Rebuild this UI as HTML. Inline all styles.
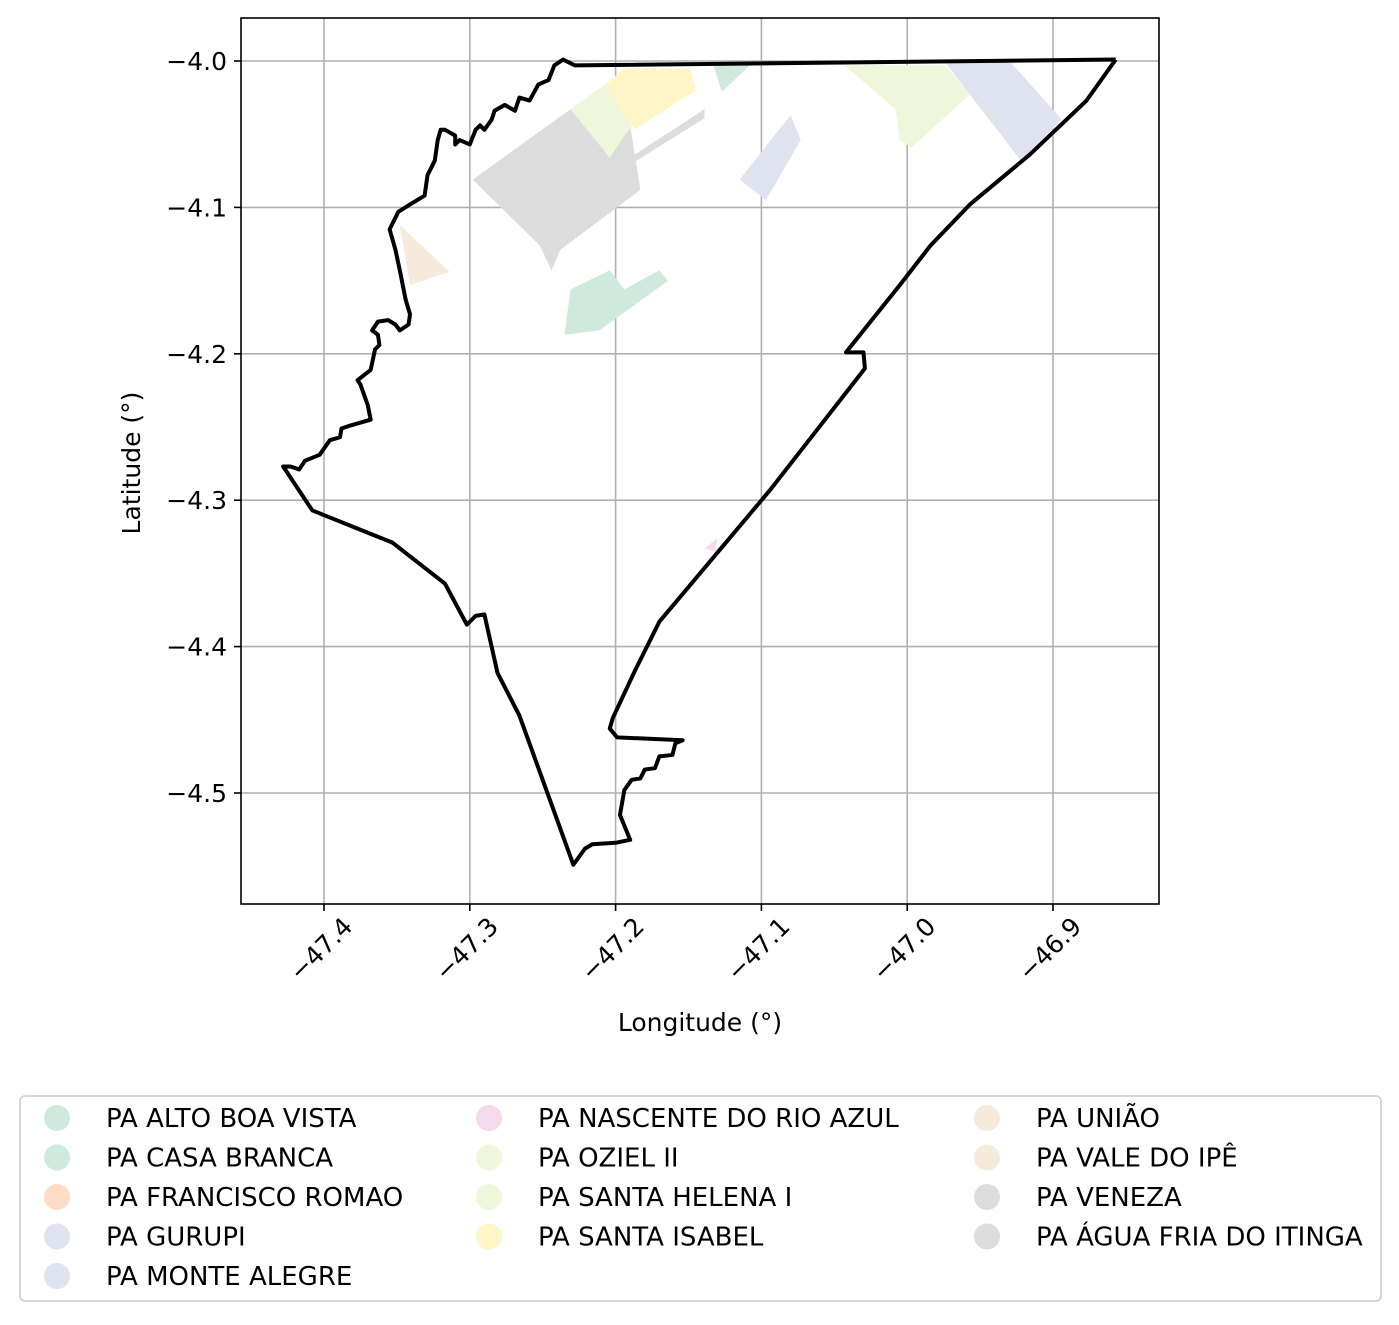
<!DOCTYPE html>
<html><head><meta charset="utf-8"><style>
body{margin:0;background:#fff}
svg text{font-family:"DejaVu Sans","Liberation Sans",sans-serif;font-size:25px;fill:#000}
svg .lgt{font-size:26px}
</style></head><body>
<svg id="chart" width="1399" height="1320" xmlns="http://www.w3.org/2000/svg"></svg>
<script>
const xTicks=[-47.4,-47.3,-47.2,-47.1,-47.0,-46.9];
const xTickLabels=["\u221247.4","\u221247.3","\u221247.2","\u221247.1","\u221247.0","\u221246.9"];
const yTicks=[-4.0,-4.1,-4.2,-4.3,-4.4,-4.5];
const yTickLabels=["\u22124.0","\u22124.1","\u22124.2","\u22124.3","\u22124.4","\u22124.5"];
const boundaryLon=[-46.857,-46.877,-46.916,-46.957,-46.984,-47.005,-47.042,-47.030,-47.029,-47.094,-47.170,-47.187,-47.202,-47.204,-47.199,-47.154,-47.159,-47.161,-47.170,-47.173,-47.180,-47.183,-47.189,-47.194,-47.197,-47.190,-47.200,-47.216,-47.221,-47.229,-47.266,-47.281,-47.290,-47.296,-47.302,-47.317,-47.353,-47.408,-47.428,-47.423,-47.417,-47.413,-47.403,-47.396,-47.389,-47.388,-47.382,-47.368,-47.370,-47.375,-47.377,-47.368,-47.365,-47.362,-47.363,-47.367,-47.363,-47.356,-47.351,-47.348,-47.342,-47.341,-47.344,-47.346,-47.348,-47.351,-47.355,-47.349,-47.341,-47.336,-47.331,-47.329,-47.324,-47.322,-47.320,-47.317,-47.310,-47.310,-47.307,-47.300,-47.296,-47.293,-47.290,-47.285,-47.283,-47.276,-47.269,-47.266,-47.259,-47.253,-47.246,-47.242,-47.236,-47.228,-46.857];
const boundaryLat=[-3.999,-4.027,-4.064,-4.098,-4.126,-4.153,-4.199,-4.199,-4.210,-4.293,-4.383,-4.417,-4.449,-4.456,-4.462,-4.464,-4.466,-4.474,-4.475,-4.483,-4.484,-4.490,-4.491,-4.498,-4.515,-4.532,-4.534,-4.535,-4.538,-4.549,-4.447,-4.418,-4.378,-4.379,-4.385,-4.357,-4.329,-4.307,-4.277,-4.277,-4.279,-4.273,-4.269,-4.259,-4.257,-4.251,-4.249,-4.245,-4.235,-4.221,-4.218,-4.211,-4.197,-4.194,-4.187,-4.184,-4.178,-4.177,-4.180,-4.184,-4.180,-4.173,-4.163,-4.153,-4.143,-4.129,-4.115,-4.103,-4.098,-4.095,-4.092,-4.078,-4.068,-4.054,-4.047,-4.047,-4.051,-4.057,-4.054,-4.057,-4.047,-4.044,-4.047,-4.040,-4.034,-4.030,-4.034,-4.025,-4.027,-4.016,-4.013,-4.003,-3.999,-4.003,-3.999];
const patchNames=["veneza","agua-fria","santa-helena","santa-isabel","casa-branca","monte-alegre","oziel","gurupi","alto-boa-vista","vale-do-ipe","nascente"];
const patchColors=["#dcdcdc","#dcdcdc","#eef7dc","#fff5c6","#cfeadc","#dfe3f0","#eef7dc","#dfe3f0","#cfeadc","#f5eadb","#f6d9ec"];
const patchLon=[[-47.298,-47.231,-47.190,-47.183,-47.238,-47.244,-47.252],[-47.187,-47.139,-47.139,-47.187],[-47.231,-47.207,-47.189,-47.204],[-47.207,-47.194,-47.149,-47.145,-47.187,-47.197],[-47.133,-47.108,-47.127],[-47.115,-47.080,-47.073,-47.097],[-47.043,-46.974,-46.957,-46.997,-47.005,-47.008],[-46.974,-46.929,-46.894,-46.922,-46.957],[-47.235,-47.231,-47.204,-47.194,-47.170,-47.164,-47.211],[-47.348,-47.314,-47.341],[-47.139,-47.130,-47.132]];
const patchLat=[[-4.081,-4.033,-4.044,-4.088,-4.129,-4.143,-4.126],[-4.064,-4.033,-4.039,-4.069],[-4.033,-4.016,-4.044,-4.066],[-4.016,-4.005,-4.005,-4.020,-4.047,-4.033],[-4.003,-4.003,-4.021],[-4.081,-4.037,-4.054,-4.095],[-4.003,-4.003,-4.023,-4.059,-4.054,-4.033],[-4.001,-4.001,-4.040,-4.068,-4.023],[-4.187,-4.156,-4.143,-4.156,-4.143,-4.150,-4.184],[-4.112,-4.144,-4.153],[-4.333,-4.326,-4.335]];
const legendLabels=["PA ALTO BOA VISTA","PA CASA BRANCA","PA FRANCISCO ROMAO","PA GURUPI","PA MONTE ALEGRE","PA NASCENTE DO RIO AZUL","PA OZIEL II","PA SANTA HELENA I","PA SANTA ISABEL","PA UNIÃO","PA VALE DO IPÊ","PA VENEZA","PA ÁGUA FRIA DO ITINGA"];
const legendColors=["#cfeadc","#cfeadc","#fddcc6","#dfe3f0","#dfe3f0","#f6d9ec","#eef7dc","#eef7dc","#fff5c6","#f5eadb","#f5eadb","#dcdcdc","#dcdcdc"];

const NS="http://www.w3.org/2000/svg";
const svg=document.getElementById('chart');
const L=241,R=1159,T=18,B=904;
function sx(v){return 324+(v+47.4)*1458;}
function sy(v){return 61-(v+4.0)*1464;}
function mk(tag,attrs,parent){const e=document.createElementNS(NS,tag);for(const k in attrs)e.setAttribute(k,attrs[k]);(parent||svg).appendChild(e);return e;}

const grid=mk('g',{});


xTicks.forEach((t,i)=>{
  const x=sx(t);
  const gl=mk('line',{x1:x,x2:x,y1:T,y2:B,stroke:'#b0b0b0','stroke-width':1.6},grid);
  
  
  const tk=mk('line',{x1:x,x2:x,y1:B,y2:B+7,stroke:'#000','stroke-width':1.6});
  
  
  const ax=x+30, ay=B+24;
  const tx=mk('text',{x:ax,y:ay,'text-anchor':'end',transform:`rotate(-45 ${ax} ${ay})`});
  tx.textContent=xTickLabels[i];
  
  
});
yTicks.forEach((t,i)=>{
  const y=sy(t);
  const gl=mk('line',{x1:L,x2:R,y1:y,y2:y,stroke:'#b0b0b0','stroke-width':1.6},grid);
  
  
  const tk=mk('line',{x1:L-7,x2:L,y1:y,y2:y,stroke:'#000','stroke-width':1.6});
  
  
  const tx=mk('text',{x:L-14,y:y+9,'text-anchor':'end'});
  tx.textContent=yTickLabels[i];
  
  
});
patchNames.forEach((n,i)=>{
  const pts=patchLon[i].map((lo,j)=>sx(lo)+','+sy(patchLat[i][j])).join(' ');
  const p=mk('polygon',{points:pts,fill:patchColors[i]});
  
  
});
const bpts=boundaryLon.map((lo,j)=>sx(lo)+','+sy(boundaryLat[j])).join(' ');
const bl=mk('polyline',{points:bpts,fill:'none',stroke:'#000','stroke-width':4,'stroke-linejoin':'round'});


const fr=mk('rect',{x:L,y:T,width:R-L,height:B-T,fill:'none',stroke:'#000','stroke-width':1.6});


const xl=mk('text',{x:700,y:1031,'text-anchor':'middle'});
xl.textContent='Longitude (°)';


const yl=mk('text',{x:140,y:463,'text-anchor':'middle',transform:'rotate(-90 140 463)'});
yl.textContent='Latitude (°)';



const lg=mk('g',{});


const lb=mk('rect',{x:20,y:1096,width:1361,height:205,rx:5,fill:'#fff',stroke:'#ccc','stroke-width':1.6},lg);


const colX=[57,489,987],rows=[5,4,4];
let k=0;
rows.forEach((n,c)=>{for(let r=0;r<n;r++){
  const y=1118+r*39.5;
  const ci=mk('circle',{cx:colX[c],cy:y,r:13,fill:legendColors[k]},lg);
  
  
  const t=mk('text',{x:colX[c]+49,y:y+9,class:'lgt'},lg);
  t.textContent=legendLabels[k];
  
  
  k++;
}});
</script>
</body></html>
